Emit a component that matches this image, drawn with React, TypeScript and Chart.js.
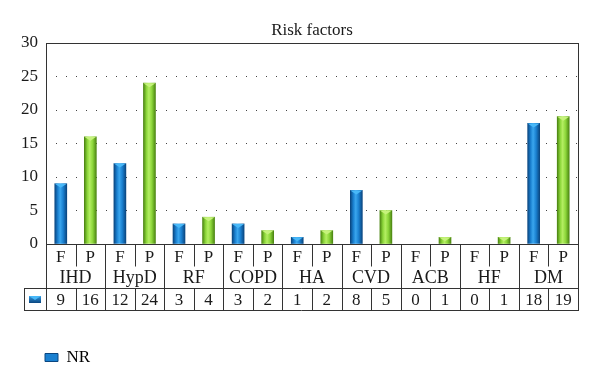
import React, { useEffect, useRef } from 'react';
import { Chart, registerables } from 'chart.js';

Chart.register(...registerables);

const title = 'Risk factors';
const categories = ['IHD', 'HypD', 'RF', 'COPD', 'HA', 'CVD', 'ACB', 'HF', 'DM'];
const subLabels = ['F', 'P'];
const fValues = [9, 12, 3, 3, 1, 8, 0, 0, 18];
const pValues = [16, 24, 4, 2, 2, 5, 1, 1, 19];
const yTicks = [0, 5, 10, 15, 20, 25, 30];
const seriesName = 'NR';

const FONT = '"Liberation Serif", "DejaVu Serif", serif';
const LINE = '#333333';
const TEXT = '#1a1a1a';

const BLUE = { edge: '#0a4680', mid: '#1a80d0', light: '#3aa6ee', cap: '#48b8f8' };
const GREEN = { edge: '#4c8612', mid: '#8cd63a', light: '#b4ee62', cap: '#c6f27c' };

const labels = categories.flatMap((c) => subLabels.map((s) => `${c} ${s}`));
const values = categories.flatMap((_, i) => [fValues[i], pValues[i]]);

function palette(i: number) {
  return i % 2 === 0 ? BLUE : GREEN;
}

function barFill(ctx: any) {
  const i = ctx.dataIndex;
  const chart = ctx.chart;
  if (i === undefined) return BLUE.mid;
  if (values[i] <= 0) return 'rgba(0,0,0,0)';
  const p = palette(i);
  const xs = chart.scales && chart.scales.x;
  if (!xs || !chart.chartArea) return p.mid;
  const x = xs.getPixelForValue(i);
  const g = chart.ctx.createLinearGradient(x - 6, 0, x + 6, 0);
  g.addColorStop(0, p.edge);
  g.addColorStop(0.25, p.mid);
  g.addColorStop(0.45, p.light);
  g.addColorStop(0.7, p.mid);
  g.addColorStop(1, p.edge);
  return g;
}

const decorPlugin = {
  id: 'decor',
  afterDatasetsDraw(chart: any) {
    const ctx = chart.ctx;
    const meta = chart.getDatasetMeta(0);
    ctx.save();
    meta.data.forEach((bar: any, i: number) => {
      if (values[i] <= 0) return;
      const { x, y, width } = bar.getProps(['x', 'y', 'width'], true);
      const p = palette(i);
      const h = Math.min(4, Math.abs(bar.base - y));
      ctx.fillStyle = p.cap;
      ctx.beginPath();
      ctx.moveTo(x - width / 2, y);
      ctx.lineTo(x + width / 2, y);
      ctx.lineTo(x, y + h);
      ctx.closePath();
      ctx.fill();
    });
    ctx.restore();
  },
  afterDraw(chart: any) {
    const ctx = chart.ctx;
    const xs = chart.scales.x;
    const { left, right, top, bottom } = chart.chartArea;
    const n = labels.length;
    const w = (right - left) / n;
    const r1 = bottom + 22;
    const r2 = bottom + 44;
    const r3 = bottom + 66;
    const tableLeft = 24;
    const px = (v: number) => Math.round(v) + 0.5;

    ctx.save();
    ctx.strokeStyle = LINE;
    ctx.lineWidth = 1;
    // plot frame
    ctx.strokeRect(px(left), px(top), Math.round(right) - Math.round(left), Math.round(bottom) - Math.round(top));

    ctx.beginPath();
    ctx.moveTo(tableLeft, px(r2));
    ctx.lineTo(px(right), px(r2));
    ctx.moveTo(tableLeft, px(r3));
    ctx.lineTo(px(right) + 0.5, px(r3));
    ctx.moveTo(px(tableLeft), px(r2));
    ctx.lineTo(px(tableLeft), px(r3));
    for (let i = 0; i <= n; i++) {
      const bx = px(left + i * w);
      if (i % 2 === 0) {
        ctx.moveTo(bx, px(bottom));
        ctx.lineTo(bx, px(r3));
      } else {
        ctx.moveTo(bx, px(bottom));
        ctx.lineTo(bx, px(r1));
        ctx.moveTo(bx, px(r2));
        ctx.lineTo(bx, px(r3));
      }
    }
    ctx.stroke();

    ctx.fillStyle = TEXT;
    ctx.textAlign = 'center';
    ctx.textBaseline = 'middle';
    ctx.font = `17px ${FONT}`;
    for (let i = 0; i < n; i++) {
      const cx = xs.getPixelForValue(i);
      ctx.fillText(subLabels[i % 2], cx, (bottom + r1) / 2 + 3);
      ctx.fillText(String(values[i]), cx, (r2 + r3) / 2 + 2);
    }
    ctx.font = `18px ${FONT}`;
    categories.forEach((c, g) => {
      const cx = (xs.getPixelForValue(g * 2) + xs.getPixelForValue(g * 2 + 1)) / 2;
      ctx.fillText(c, cx, (r1 + r2) / 2 + 1);
    });

    // series icon in table
    const ix = (tableLeft + left) / 2;
    const iy = (r2 + r3) / 2;
    const g = ctx.createLinearGradient(0, iy - 4, 0, iy + 4);
    g.addColorStop(0, BLUE.light);
    g.addColorStop(1, BLUE.edge);
    ctx.fillStyle = g;
    ctx.fillRect(ix - 6, iy - 3, 12, 7);
    ctx.fillStyle = BLUE.cap;
    ctx.beginPath();
    ctx.moveTo(ix - 6, iy - 3);
    ctx.lineTo(ix + 6, iy - 3);
    ctx.lineTo(ix, iy + 1);
    ctx.closePath();
    ctx.fill();
    ctx.restore();
  },
};

export default function App() {
  const ref = useRef<HTMLCanvasElement | null>(null);

  useEffect(() => {
    document.body.style.margin = '0';
    if (!ref.current) return;
    const chart = new Chart(ref.current, {
      type: 'bar',
      data: {
        labels,
        datasets: [
          {
            label: seriesName,
            data: values,
            backgroundColor: barFill as any,
            borderWidth: 0,
            barThickness: 12,
          },
        ],
      },
      options: {
        responsive: false,
        animation: false,
        layout: { padding: { left: 0, right: 22, top: 20, bottom: 14 } },
        plugins: {
          title: {
            display: true,
            text: title,
            fullSize: false,
            color: TEXT,
            font: { family: FONT, size: 17, weight: 'normal' },
            padding: { top: 0, bottom: 2.6 },
          },
          legend: {
            display: true,
            position: 'bottom',
            align: 'start',
            labels: {
              boxWidth: 13,
              boxHeight: 8,
              padding: 45,
              color: TEXT,
              font: { family: FONT, size: 17 },
              generateLabels: () => [
                {
                  text: seriesName,
                  fillStyle: BLUE.mid,
                  strokeStyle: BLUE.edge,
                  lineWidth: 1,
                  hidden: false,
                  datasetIndex: 0,
                },
              ],
            },
          },
          tooltip: { enabled: false },
        },
        scales: {
          x: {
            display: true,
            ticks: { display: false },
            grid: { display: false },
            border: { display: false },
            afterFit: (s: any) => {
              s.height = 60;
            },
          },
          y: {
            min: yTicks[0],
            max: yTicks[yTicks.length - 1],
            afterBuildTicks: (s: any) => {
              s.ticks = yTicks.map((v) => ({ value: v }));
            },
            ticks: {
              color: TEXT,
              padding: 8,
              font: { family: FONT, size: 17 },
            },
            grid: { drawTicks: false, color: '#444', lineWidth: 1 },
            border: { display: false, dash: [1, 9] },
            afterFit: (s: any) => {
              s.width = 46;
            },
          },
        },
      },
      plugins: [decorPlugin],
    });
    return () => chart.destroy();
  }, []);

  return (
    <div style={{ width: 600, height: 390 }}>
      <canvas ref={ref} width={600} height={390} />
    </div>
  );
}
